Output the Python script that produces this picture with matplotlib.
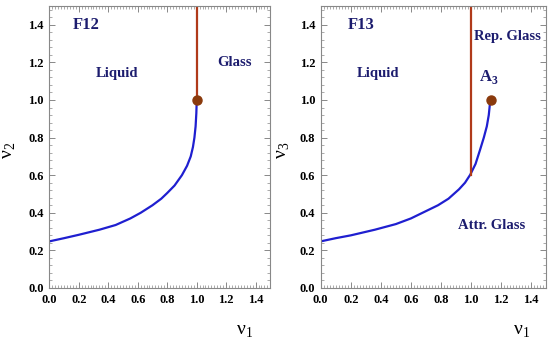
import matplotlib
matplotlib.use("Agg")
import matplotlib.pyplot as plt
from matplotlib.ticker import MultipleLocator

plt.rcParams['font.family'] = ['Liberation Serif', 'DejaVu Serif']
plt.rcParams['mathtext.fontset'] = 'custom'
plt.rcParams['mathtext.rm'] = 'Liberation Serif'
plt.rcParams['mathtext.bf'] = 'Liberation Serif:bold'

# F12 transition curve (nu1, nu2)
f12_nu1 = [0.0, 0.1, 0.2, 0.34, 0.45, 0.55, 0.62, 0.70, 0.76, 0.80, 0.85, 0.90, 0.935, 0.96, 0.975, 0.985, 0.993, 0.998, 1.0]
f12_nu2 = [0.248, 0.265, 0.283, 0.31, 0.335, 0.37, 0.40, 0.44, 0.475, 0.505, 0.545, 0.60, 0.65, 0.70, 0.75, 0.80, 0.86, 0.93, 0.98]
f12_line_x = [1.0, 1.0]
f12_line_y = [1.0, 1.5]
f12_point = (1.0, 1.0)

# F13 transition curve (nu1, nu3)
f13_nu1 = [0.0, 0.1, 0.2, 0.36, 0.5, 0.6, 0.69, 0.78, 0.85, 0.92, 0.96, 0.995, 1.03, 1.06, 1.085, 1.105, 1.118, 1.125]
f13_nu3 = [0.248, 0.265, 0.28, 0.31, 0.34, 0.37, 0.405, 0.44, 0.475, 0.525, 0.56, 0.603, 0.66, 0.735, 0.80, 0.86, 0.92, 0.975]
f13_line_x = [1.0, 1.0]
f13_line_y = [0.6, 1.5]
f13_point = (1.13, 1.0)

navy = '#1c1c6e'
blue = '#1f1fd0'
red = '#b03a1a'
brown = '#8a3a0c'
gray = '#888888'

fig = plt.figure(figsize=(5.5, 3.42), dpi=100)
ax1 = fig.add_axes([49.3/550, 1-288/342, 221/550, 282/342])
ax2 = fig.add_axes([320.7/550, 1-288/342, 225.5/550, 282/342])

def style(ax):
    ax.set_xlim(0, 1.5)
    ax.set_ylim(0, 1.5)
    ax.xaxis.set_major_locator(MultipleLocator(0.2))
    ax.yaxis.set_major_locator(MultipleLocator(0.2))
    ax.xaxis.set_minor_locator(MultipleLocator(0.02))
    ax.yaxis.set_minor_locator(MultipleLocator(0.04))
    ax.tick_params(which='both', direction='in', top=True, right=True, color=gray)
    ax.tick_params(which='major', length=4, width=0.7, labelsize=9, pad=4)
    ax.tick_params(which='minor', length=2, width=0.5)
    for s in ax.spines.values():
        s.set_color(gray)
        s.set_linewidth(0.8)
    for lab in ax.get_xticklabels() + ax.get_yticklabels():
        lab.set_fontweight('bold')

style(ax1)
ax1.plot(f12_nu1, f12_nu2, color=blue, lw=1.6)
ax1.plot(f12_line_x, f12_line_y, color=red, lw=1.6)
ax1.plot(*f12_point, 'o', color=brown, ms=6.5, zorder=5)
ax1.text(0.25, 1.4, 'F12', color=navy, fontsize=12, fontweight='bold', ha='center', va='center')
ax1.text(0.46, 1.14, 'Liquid', color=navy, fontsize=10.5, fontweight='bold', ha='center', va='center')
ax1.text(1.26, 1.2, 'Glass', color=navy, fontsize=10.5, fontweight='bold', ha='center', va='center')
fig.text(245/550, 1-332/342, r'ν$_\mathrm{1}$', fontsize=14, ha='center', va='center')
fig.text(9/550, 1-150/342, r'ν$_\mathrm{2}$', fontsize=14, ha='center', va='center', rotation=90)

style(ax2)
ax2.plot(f13_nu1, f13_nu3, color=blue, lw=1.6)
ax2.plot(f13_line_x, f13_line_y, color=red, lw=1.6)
ax2.plot(*f13_point, 'o', color=brown, ms=6.5, zorder=5)
ax2.text(0.27, 1.4, 'F13', color=navy, fontsize=12, fontweight='bold', ha='center', va='center')
ax2.text(0.38, 1.14, 'Liquid', color=navy, fontsize=10.5, fontweight='bold', ha='center', va='center')
ax2.text(1.24, 1.34, 'Rep. Glass', color=navy, fontsize=10.5, fontweight='bold', ha='center', va='center')
ax2.text(1.12, 1.12, r'A$_\mathbf{3}$', color=navy, fontsize=12, fontweight='bold', ha='center', va='center')
ax2.text(1.14, 0.33, 'Attr. Glass', color=navy, fontsize=10.5, fontweight='bold', ha='center', va='center')
fig.text(522/550, 1-332/342, r'ν$_\mathrm{1}$', fontsize=14, ha='center', va='center')
fig.text(283/550, 1-150/342, r'ν$_\mathrm{3}$', fontsize=14, ha='center', va='center', rotation=90)

fig.savefig('out.png', dpi=100)
